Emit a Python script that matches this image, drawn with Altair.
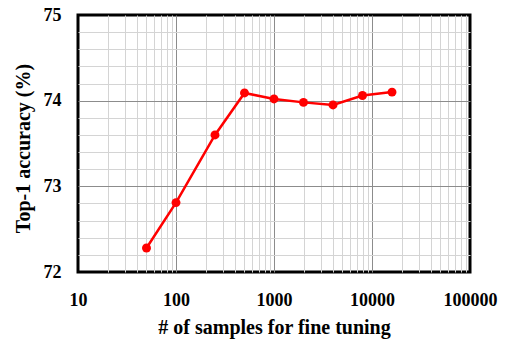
import altair as alt
import pandas as pd

samples = [50, 100, 250, 500, 1000, 2000, 4000, 8000, 16000]
accuracy = [72.28, 72.81, 73.60, 74.09, 74.02, 73.98, 73.95, 74.06, 74.10]

x_grid = [m * 10 ** e for e in range(1, 5) for m in range(1, 10)] + [100000]
y_grid = [round(72 + 0.2 * i, 1) for i in range(16)]

df = pd.DataFrame({"samples": samples, "accuracy": accuracy})

FONT = "Liberation Serif"

major_x = "abs(log(datum.value)/LN10 - round(log(datum.value)/LN10)) < 1e-6"
edge_x = "datum.value <= 10 || datum.value >= 100000"
major_y = "abs(datum.value - round(datum.value)) < 1e-6"
edge_y = "datum.value <= 72.001 || datum.value >= 74.999"

x = alt.X(
    "samples:Q",
    scale=alt.Scale(type="log", domain=[10, 100000]),
    axis=alt.Axis(
        values=x_grid,
        tickCount=len(x_grid),
        title="# of samples for fine tuning",
        format="d",
        labelExpr=f"({major_x}) ? datum.label : ''",
        labelOverlap=False,
        labelFlush=False,
        ticks=False,
        domain=False,
        labelPadding=19,
        labelFont=FONT, labelFontSize=18, labelFontWeight="bold", labelColor="black",
        titleFont=FONT, titleFontSize=20, titleFontWeight="bold", titleColor="black",
        titlePadding=8,
        gridColor=alt.condition(major_x, alt.value("#8c8c8c"), alt.value("#d4d4d4")),
        gridOpacity=alt.condition(edge_x, alt.value(0), alt.value(1)),
        gridWidth=1,
    ),
)
y = alt.Y(
    "accuracy:Q",
    scale=alt.Scale(domain=[72, 75], nice=False, zero=False),
    axis=alt.Axis(
        values=y_grid,
        tickCount=len(y_grid),
        title="Top-1 accuracy (%)",
        labelExpr=f"({major_y}) ? format(datum.value, 'd') : ''",
        labelOverlap=False,
        labelFlush=False,
        ticks=False,
        domain=False,
        labelPadding=17,
        labelFont=FONT, labelFontSize=18, labelFontWeight="bold", labelColor="black",
        titleFont=FONT, titleFontSize=20, titleFontWeight="bold", titleColor="black",
        titlePadding=10,
        titleY=133,
        gridColor=alt.condition(major_y, alt.value("#8c8c8c"), alt.value("#d4d4d4")),
        gridOpacity=alt.condition(edge_y, alt.value(0), alt.value(1)),
        gridWidth=1,
    ),
)

line = alt.Chart(df).mark_line(color="#ff0000", strokeWidth=2.5).encode(x=x, y=y)
pts = alt.Chart(df).mark_circle(color="#ff0000", size=80, opacity=1).encode(x="samples:Q", y="accuracy:Q")

chart = (
    alt.layer(line, pts)
    .properties(
        width=392,
        height=257,
        autosize=alt.AutoSizeParams(type="none"),
        padding={"left": 78, "top": 15, "right": 37, "bottom": 68},
        background="white",
    )
    .configure_view(stroke="black", strokeWidth=3)
)

chart.save("out.html", embed_options={"renderer": "svg", "actions": False})
